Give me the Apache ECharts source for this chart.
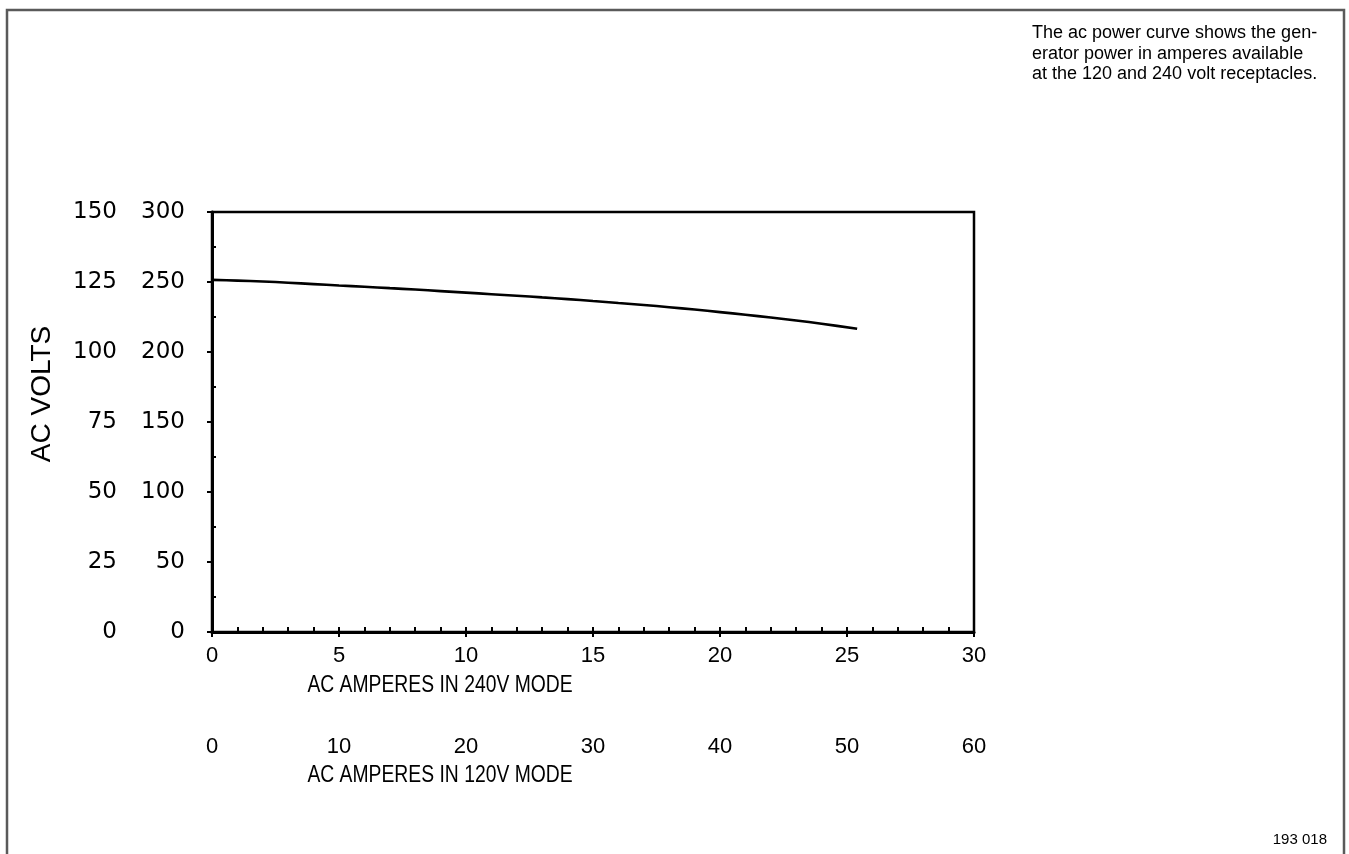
<!DOCTYPE html>
<html>
<head>
<meta charset="utf-8">
<script src="https://cdn.jsdelivr.net/npm/echarts@6/dist/echarts.min.js"></script>
<style>
html,body{margin:0;padding:0;background:#fff;}
#chart{width:1349px;height:854px;}
</style>
</head>
<body>
<div id="chart"></div>
<script>
// Data
const amps240 = [0, 1, 2, 3, 4, 5, 6, 7, 8, 9, 10, 11, 12, 13, 14, 15, 16, 17, 18, 19, 20, 21, 22, 23, 24, 25.4];
const volts240 = [251.5, 251, 250.4, 249.5, 248.5, 247.5, 246.6, 245.6, 244.6, 243.5, 242.4, 241.3, 240.2, 239, 237.8, 236.4, 235, 233.6, 232, 230.3, 228.5, 226.6, 224.6, 222.5, 220.2, 216.6];
const xTitle240 = 'AC AMPERES IN 240V MODE';
const xTitle120 = 'AC AMPERES IN 120V MODE';
const yTitle = 'AC VOLTS';
const noteLines = ['The ac power curve shows the gen-', 'erator power in amperes available', 'at the 120 and 240 volt receptacles.'];
const figId = '193 018';
const minorVoltTicks = [25, 75, 125, 175, 225, 275];

const chart = echarts.init(document.getElementById('chart'), null, {renderer: 'canvas'});
const tickFont = {fontFamily: 'Liberation Sans, Arial, sans-serif', fontSize: 22, color: '#000'};
const yFont = {fontFamily: 'DejaVu Sans, sans-serif', fontSize: 23, color: '#000'};

const option = {
  animation: false,
  backgroundColor: '#fff',
  grid: {left: 212, top: 212, width: 762, height: 420, show: true, borderColor: '#000', borderWidth: 2.5, backgroundColor: 'transparent'},
  xAxis: [
    {type: 'value', min: 0, max: 30, interval: 5, position: 'bottom',
     axisLine: {show: true, onZero: false, lineStyle: {color: '#000', width: 3}},
     axisTick: {show: true, inside: false, length: 5, lineStyle: {color: '#000', width: 2}},
     splitLine: {show: false},
     axisLabel: Object.assign({margin: 13}, tickFont)},
    {type: 'value', min: 0, max: 60, interval: 10, position: 'bottom',
     axisLine: {show: false}, axisTick: {show: false}, splitLine: {show: false},
     axisLabel: Object.assign({margin: 104}, tickFont)},
    {type: 'value', min: 0, max: 30, interval: 1, position: 'bottom',
     axisLine: {show: false}, splitLine: {show: false}, axisLabel: {show: false},
     axisTick: {show: true, inside: true, length: 5, lineStyle: {color: '#000', width: 2}}}
  ],
  yAxis: [
    {type: 'value', min: 0, max: 300, interval: 50, position: 'left',
     axisLine: {show: true, onZero: false, lineStyle: {color: '#000', width: 3}},
     axisTick: {show: true, inside: false, length: 5, lineStyle: {color: '#000', width: 2}},
     splitLine: {show: false},
     axisLabel: Object.assign({margin: 27}, yFont)},
    {type: 'value', min: 0, max: 150, interval: 25, position: 'left',
     axisLine: {show: false}, axisTick: {show: false}, splitLine: {show: false},
     axisLabel: Object.assign({margin: 95}, yFont)},
    {type: 'value', min: 0, max: 300, interval: 25, position: 'left',
     axisLine: {show: false}, splitLine: {show: false}, axisLabel: {show: false},
     axisTick: {show: true, inside: true, length: 4, customValues: minorVoltTicks, lineStyle: {color: '#000', width: 2}}}
  ],
  series: [{
    type: 'line', xAxisIndex: 0, yAxisIndex: 0,
    data: amps240.map((a, i) => [a, volts240[i]]),
    showSymbol: false, smooth: 0.3,
    lineStyle: {color: '#000', width: 2.6}
  }],
  graphic: [
    {type: 'rect', shape: {x: 7, y: 10, width: 1337, height: 900}, style: {fill: 'none', stroke: '#5a5a5a', lineWidth: 2.5}, silent: true},
    {type: 'text', x: 440, y: 686, scaleX: 0.84, style: {text: xTitle240, font: '23px "Liberation Sans", Arial', fill: '#000', align: 'center', verticalAlign: 'middle'}},
    {type: 'text', x: 440, y: 776, scaleX: 0.84, style: {text: xTitle120, font: '23px "Liberation Sans", Arial', fill: '#000', align: 'center', verticalAlign: 'middle'}},
    {type: 'text', x: 42, y: 394, rotation: Math.PI / 2, style: {text: yTitle, font: '28px "Liberation Sans", Arial', fill: '#000', align: 'center', verticalAlign: 'middle'}},
    {type: 'text', x: 1032, y: 23, style: {text: noteLines.join('\n'), font: '18px "Liberation Sans", Arial', lineHeight: 20.5, fill: '#000', align: 'left', verticalAlign: 'top'}},
    {type: 'text', x: 1327, y: 840, style: {text: figId, font: '15px "Liberation Sans", Arial', fill: '#000', align: 'right', verticalAlign: 'middle'}}
  ]
};
chart.setOption(option);
</script>
</body>
</html>
